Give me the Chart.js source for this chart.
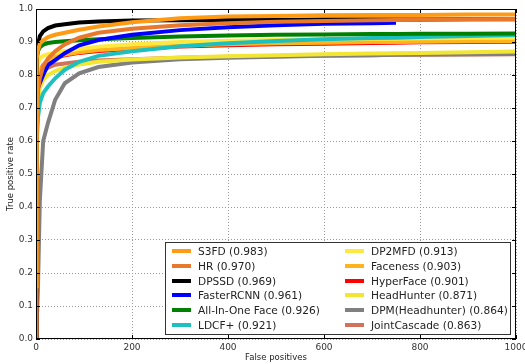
<!DOCTYPE html>
<html>
<head>
<meta charset="utf-8">
<script src="https://cdn.jsdelivr.net/npm/chart.js@4/dist/chart.umd.min.js"></script>
<style>
  html, body { margin: 0; padding: 0; background: #fff; }
</style>
</head>
<body>
<canvas id="rocChart" width="525" height="364"></canvas>
<script>
// false positive counts shared by every curve
const fpGrid = [0, 1, 2, 4, 8, 15, 25, 40, 60, 90, 130, 200, 300, 400, 500, 600, 700, 750, 800, 900, 1000];

const methods = ['S3FD (0.983)', 'HR (0.970)', 'DPSSD (0.969)', 'FasterRCNN (0.961)', 'All-In-One Face (0.926)', 'LDCF+ (0.921)',
                 'DP2MFD (0.913)', 'Faceness (0.903)', 'HyperFace (0.901)', 'HeadHunter (0.871)', 'DPM(Headhunter) (0.864)', 'JointCascade (0.863)'];

const s3fd       = [0.16, 0.82, 0.85, 0.875, 0.895, 0.905, 0.915, 0.922, 0.928, 0.937, 0.947, 0.960, 0.972, 0.977, 0.979, 0.981, 0.982, 0.982, 0.982, 0.983, 0.983];
const hr         = [0, 0.3, 0.6, 0.75, 0.79, 0.826, 0.85, 0.872, 0.893, 0.913, 0.928, 0.940, 0.951, 0.957, 0.961, 0.964, 0.966, 0.967, 0.968, 0.969, 0.970];
const dpssd      = [0, 0.80, 0.85, 0.89, 0.918, 0.932, 0.942, 0.950, 0.954, 0.959, 0.962, 0.965, 0.966, 0.967, 0.967, 0.968, 0.968, 0.968, 0.968, 0.969, 0.969];
const fasterRcnn = [0, 0.6, 0.72, 0.76, 0.776, 0.80, 0.83, 0.845, 0.866, 0.89, 0.906, 0.922, 0.936, 0.945, 0.951, 0.955, 0.957, 0.958, null, null, null];
const allInOne   = [0, 0.82, 0.85, 0.872, 0.884, 0.892, 0.897, 0.900, 0.902, 0.905, 0.908, 0.912, 0.917, 0.920, 0.922, 0.923, 0.924, 0.924, 0.925, 0.925, 0.926];
const ldcf       = [0, 0.45, 0.6, 0.67, 0.716, 0.745, 0.765, 0.79, 0.816, 0.84, 0.858, 0.872, 0.887, 0.896, 0.903, 0.908, 0.912, 0.913, 0.915, 0.918, 0.921];
const dp2mfd     = [0, 0.7, 0.8, 0.835, 0.851, 0.858, 0.863, 0.867, 0.872, 0.879, 0.886, 0.893, 0.900, 0.904, 0.906, 0.908, 0.910, 0.910, 0.911, 0.912, 0.913];
const faceness   = [0, 0.6, 0.72, 0.78, 0.81, 0.83, 0.845, 0.855, 0.862, 0.869, 0.876, 0.882, 0.889, 0.893, 0.896, 0.898, 0.900, 0.900, 0.901, 0.902, 0.903];
const hyperface  = [0, 0.6, 0.72, 0.78, 0.81, 0.83, 0.843, 0.853, 0.86, 0.867, 0.873, 0.879, 0.886, 0.890, 0.893, 0.895, 0.897, 0.898, 0.899, 0.900, 0.901];
const headHunter = [0, 0.5, 0.65, 0.72, 0.76, 0.785, 0.80, 0.812, 0.822, 0.832, 0.840, 0.847, 0.853, 0.857, 0.860, 0.863, 0.865, 0.866, 0.867, 0.869, 0.871];
const dpm        = [0, 0.01, 0.05, 0.15, 0.42, 0.6, 0.655, 0.725, 0.775, 0.805, 0.824, 0.838, 0.848, 0.852, 0.855, 0.858, 0.860, 0.861, 0.862, 0.863, 0.864];
const jointCasc  = [0, 0.3, 0.6, 0.76, 0.795, 0.811, 0.822, 0.831, 0.835, 0.840, 0.844, 0.848, 0.852, 0.855, 0.857, 0.859, 0.860, 0.861, 0.861, 0.862, 0.863];

const xTicks = [0, 200, 400, 600, 800, 1000];
const yTicks = [0, 0.1, 0.2, 0.3, 0.4, 0.5, 0.6, 0.7, 0.8, 0.9, 1.0];

const series = [s3fd, hr, dpssd, fasterRcnn, allInOne, ldcf, dp2mfd, faceness, hyperface, headHunter, dpm, jointCasc];
const colors = ['#ff9a14', '#e8782c', '#000000', '#0000ff', '#008000', '#1cc0c0',
                '#ffe840', '#ffb41c', '#ff0000', '#f2e632', '#808080', '#d2725a'];

const datasets = series.map(function (vals, i) {
    return {
        label: methods[i],
        data: vals.map(function (v, j) { return { x: fpGrid[j], y: v }; }),
        borderColor: colors[i],
        backgroundColor: colors[i],
        borderWidth: 4,
        pointRadius: 0,
        tension: 0,
        fill: false,
        spanGaps: false
    };
});

// axis box, inward tick marks and the boxed legend in the lower right
const frame = {
    id: 'frame',
    afterDraw: function (chart) {
        const c = chart.ctx, a = chart.chartArea;
        const xs = chart.scales.x, ys = chart.scales.y;
        c.save();
        c.strokeStyle = '#000';
        c.lineWidth = 1;
        c.strokeRect(a.left + 0.5, a.top + 0.5, a.right - a.left - 1, a.bottom - a.top - 1);
        c.beginPath();
        xTicks.forEach(function (t) {
            const px = Math.round(xs.getPixelForValue(t)) + 0.5;
            c.moveTo(px, a.bottom); c.lineTo(px, a.bottom - 4);
            c.moveTo(px, a.top); c.lineTo(px, a.top + 4);
        });
        yTicks.forEach(function (t) {
            const py = Math.round(ys.getPixelForValue(t)) + 0.5;
            c.moveTo(a.left, py); c.lineTo(a.left + 4, py);
            c.moveTo(a.right, py); c.lineTo(a.right - 4, py);
        });
        c.stroke();

        // legend
        const bx = 165, by = 242, bw = 345, bh = 92;
        c.fillStyle = '#fff';
        c.fillRect(bx, by, bw, bh);
        c.strokeStyle = '#333';
        c.strokeRect(bx + 0.5, by + 0.5, bw, bh);
        c.font = '10.6px "DejaVu Sans"';
        c.textBaseline = 'middle';
        methods.forEach(function (name, i) {
            const col = i < 6 ? 0 : 1;
            const row = i % 6;
            const lx = col === 0 ? 172 : 345;
            const ly = Math.round(by + 9 + row * 14.8);
            c.strokeStyle = colors[i];
            c.lineWidth = 4;
            c.beginPath();
            c.moveTo(lx, ly); c.lineTo(lx + 19, ly);
            c.stroke();
            c.fillStyle = '#222';
            c.fillText(name, lx + 26, ly + 1);
        });
        c.restore();
    }
};

new Chart(document.getElementById('rocChart'), {
    type: 'line',
    data: { datasets: datasets },
    options: {
        responsive: false,
        animation: false,
        layout: { padding: { top: 9, right: 9, left: 0, bottom: 0 } },
        plugins: { legend: { display: false }, tooltip: { enabled: false } },
        scales: {
            x: {
                type: 'linear',
                min: 0, max: 1000,
                afterFit: function (s) { s.height = 25; s.paddingRight = 0; s.paddingLeft = 0; },
                afterBuildTicks: function (s) { s.ticks = xTicks.map(function (v) { return { value: v }; }); },
                grid: { color: '#999', borderDash: [1, 2], drawTicks: false },
                border: { display: false, dash: [1, 2] },
                ticks: { padding: 3, color: '#333', font: { family: 'DejaVu Sans', size: 9 }, maxRotation: 0,
                         callback: function (v) { return String(v); } },
                title: { display: true, text: 'False positives', color: '#222', font: { family: 'DejaVu Sans', size: 8.5 }, padding: { top: 0, bottom: 1 } }
            },
            y: {
                type: 'linear',
                min: 0, max: 1,
                afterFit: function (s) { s.width = 36; s.paddingTop = 0; s.paddingBottom = 0; },
                afterBuildTicks: function (s) { s.ticks = yTicks.map(function (v) { return { value: v }; }); },
                grid: { color: '#999', borderDash: [1, 2], drawTicks: false },
                border: { display: false, dash: [1, 2] },
                ticks: { padding: 3, color: '#333', font: { family: 'DejaVu Sans', size: 9 },
                         callback: function (v) { return v.toFixed(1); } },
                title: { display: true, text: 'True positive rate', color: '#222', font: { family: 'DejaVu Sans', size: 8.5 }, padding: { top: 6, bottom: 0 } }
            }
        }
    },
    plugins: [frame]
});
</script>
</body>
</html>
